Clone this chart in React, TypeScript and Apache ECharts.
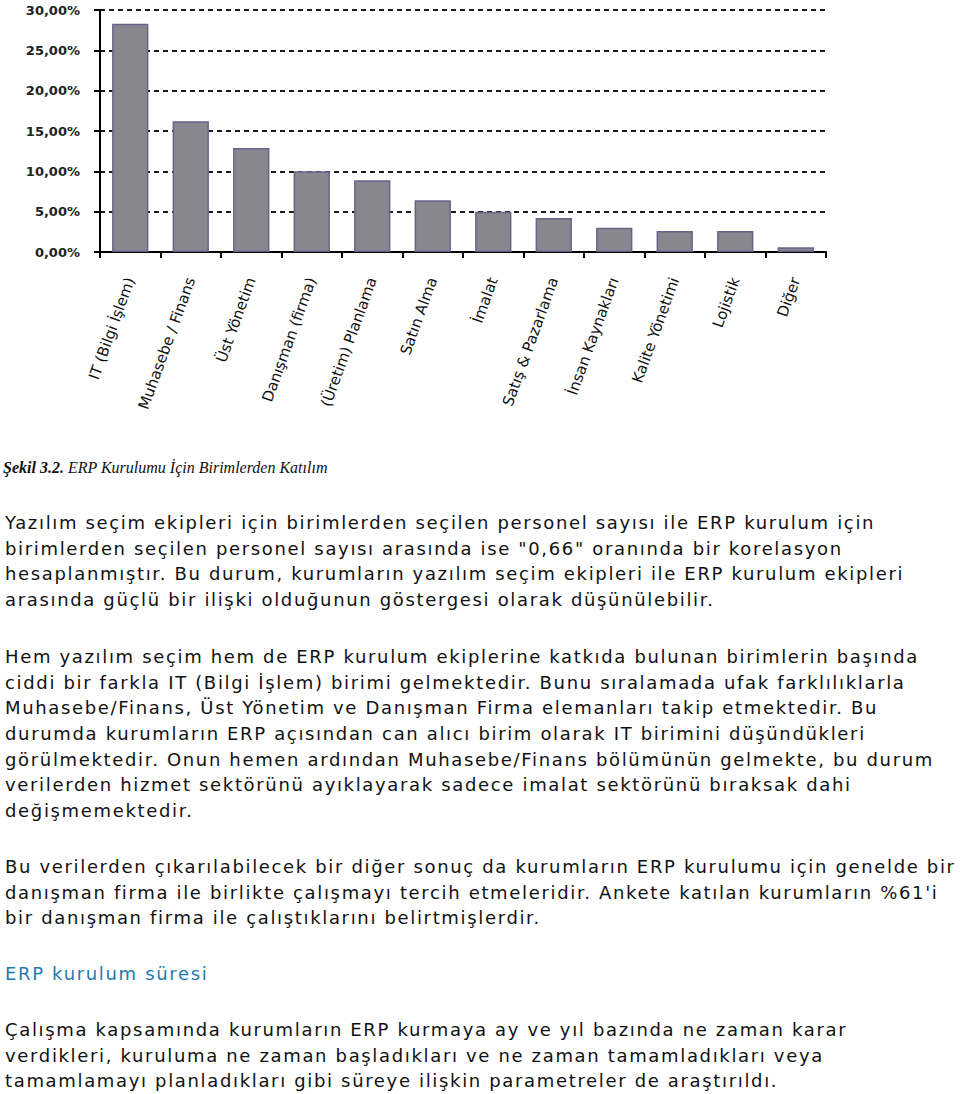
import React, { useEffect, useRef } from "react";
import * as echarts from "echarts";

const categories = [
  "IT (Bilgi İşlem)",
  "Muhasebe / Finans",
  "Üst Yönetim",
  "Danışman (firma)",
  "(Üretim) Planlama",
  "Satın Alma",
  "İmalat",
  "Satış & Pazarlama",
  "İnsan Kaynakları",
  "Kalite Yönetimi",
  "Lojistik",
  "Diğer",
];
const values = [28.3, 16.2, 12.9, 10.0, 8.9, 6.4, 5.0, 4.2, 3.0, 2.6, 2.6, 0.6];
const yMin = 0;
const yMax = 30;
const yStep = 5;

const captionBold = "Şekil 3.2.";
const captionRest = " ERP Kurulumu İçin Birimlerden Katılım";

const para1 = [
  "Yazılım seçim ekipleri için birimlerden seçilen personel sayısı ile ERP kurulum için",
  "birimlerden seçilen personel sayısı arasında ise \"0,66\" oranında bir korelasyon",
  "hesaplanmıştır. Bu durum, kurumların yazılım seçim ekipleri ile ERP kurulum ekipleri",
  "arasında güçlü bir ilişki olduğunun göstergesi olarak düşünülebilir.",
];
const para2 = [
  "Hem yazılım seçim hem de ERP kurulum ekiplerine katkıda bulunan birimlerin başında",
  "ciddi bir farkla IT (Bilgi İşlem) birimi gelmektedir. Bunu sıralamada ufak farklılıklarla",
  "Muhasebe/Finans, Üst Yönetim ve Danışman Firma elemanları takip etmektedir. Bu",
  "durumda kurumların ERP açısından can alıcı birim olarak IT birimini düşündükleri",
  "görülmektedir. Onun hemen ardından Muhasebe/Finans bölümünün gelmekte, bu durum",
  "verilerden hizmet sektörünü ayıklayarak sadece imalat sektörünü bıraksak dahi",
  "değişmemektedir.",
];
const para3 = [
  "Bu verilerden çıkarılabilecek bir diğer sonuç da kurumların ERP kurulumu için genelde bir",
  "danışman firma ile birlikte çalışmayı tercih etmeleridir. Ankete katılan kurumların %61'i",
  "bir danışman firma ile çalıştıklarını belirtmişlerdir.",
];
const heading = "ERP kurulum süresi";
const para5 = [
  "Çalışma kapsamında kurumların ERP kurmaya ay ve yıl bazında ne zaman karar",
  "verdikleri, kuruluma ne zaman başladıkları ve ne zaman tamamladıkları veya",
  "tamamlamayı planladıkları gibi süreye ilişkin parametreler de araştırıldı.",
];

const LH = 25.6;
const textFont = "'DejaVu Sans', Verdana, sans-serif";

function Para({ lines, top, color }: { lines: string[]; top: number; color?: string }) {
  return (
    <div
      style={{
        position: "absolute",
        left: 5,
        top: top - LH / 2,
        fontFamily: textFont,
        fontSize: 18,
        letterSpacing: "1.66px",
        lineHeight: LH + "px",
        color: color || "#111",
        whiteSpace: "nowrap",
      }}
    >
      {lines.map((l, i) => (
        <div key={i}>{l}</div>
      ))}
    </div>
  );
}

export default function App() {
  const ref = useRef<HTMLDivElement>(null);
  useEffect(() => {
    if (!ref.current) return;
    const chart = echarts.init(ref.current, undefined, { renderer: "svg" });
    chart.setOption({
      animation: false,
      backgroundColor: "#ffffff",
      grid: { left: 100, top: 10, right: 134, bottom: 178, containLabel: false },
      xAxis: {
        type: "category",
        data: categories,
        boundaryGap: true,
        axisLine: { show: true, lineStyle: { color: "#000", width: 2 } },
        axisTick: { show: true, length: 6, lineStyle: { color: "#000", width: 2 } },
        axisLabel: {
          rotate: 70,
          margin: 26,
          fontFamily: "'DejaVu Sans', sans-serif",
          fontSize: 15,
          color: "#111",
          interval: 0,
        },
      },
      yAxis: {
        type: "value",
        min: yMin,
        max: yMax,
        interval: yStep,
        axisLine: { show: true, lineStyle: { color: "#000", width: 2 } },
        axisTick: { show: true, length: 6, lineStyle: { color: "#000", width: 2 } },
        axisLabel: {
          margin: 20,
          padding: [0, 0, 8, 0],
          fontFamily: "'DejaVu Sans', sans-serif",
          fontSize: 13,
          fontWeight: "bold",
          color: "#222",
          formatter: (v: number) => v.toFixed(2).replace(".", ",") + "%",
        },
        splitLine: {
          show: true,
          lineStyle: { color: "#1a1a1a", width: 2, type: [5, 4] },
        },
      },
      series: [
        {
          type: "bar",
          data: values,
          barWidth: "60%",
          itemStyle: { color: "#88868e", borderColor: "#67648a", borderWidth: 1.5 },
        },
      ],
    });
    return () => chart.dispose();
  }, []);

  return (
    <div style={{ position: "absolute", left: 0, top: 0, width: 960, height: 1094, background: "#fff" }}>
      <div ref={ref} style={{ position: "absolute", left: 0, top: 0, width: 960, height: 430 }} />
      <div
        style={{
          position: "absolute",
          left: 3,
          top: 459,
          fontFamily: "'Liberation Serif', 'Times New Roman', serif",
          fontStyle: "italic",
          fontSize: 16,
          lineHeight: "18px",
          color: "#111",
          whiteSpace: "nowrap",
        }}
      >
        <b>{captionBold}</b>
        {captionRest}
      </div>
      <Para lines={para1} top={523} />
      <Para lines={para2} top={657} />
      <Para lines={para3} top={867} />
      <Para lines={[heading]} top={974} color="#1f7ab2" />
      <Para lines={para5} top={1030} />
    </div>
  );
}
